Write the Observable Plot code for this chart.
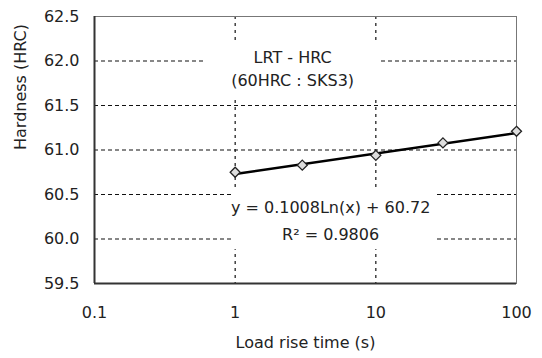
<!DOCTYPE html>
<html>
<head>
<meta charset="utf-8">
<script src="https://cdn.jsdelivr.net/npm/d3@7"></script>
<script src="https://cdn.jsdelivr.net/npm/@observablehq/plot@0.6"></script>
<style>
  html, body { margin: 0; padding: 0; background: #fff; }
  svg { display: block; }
</style>
</head>
<body>
<div id="chart"></div>
<script>
// Data
const loadRiseTime = [1, 3, 10, 30, 100];
const hardness = [60.75, 60.83, 60.94, 61.08, 61.21];

// Logarithmic trend line end points (y = 0.1008 Ln(x) + 60.72)
const trendX = [1, 100];
const trendY = [60.73, 61.19];

// Axis ticks
const xTicks = [0.1, 1, 10, 100];
const xTickLabels = ["0.1", "1", "10", "100"];
const yTicks = [59.5, 60.0, 60.5, 61.0, 61.5, 62.0, 62.5];
const yGrid = [60.0, 60.5, 61.0, 61.5, 62.0];
const xGrid = [1, 10];

// Texts
const titleLines = ["LRT - HRC", "(60HRC : SKS3)"];
const equationLines = ["y = 0.1008Ln(x) + 60.72", "R\u00B2 = 0.9806"];
const xLabel = "Load rise time (s)";
const yLabel = "Hardness (HRC)";

// Annotation anchors (data units) and their white backgrounds
const titleAnchor = {x: 2.56, y: [62.03, 61.78]};
const equationAnchor = {x: 4.77, y: [60.35, 60.05]};
const labelBoxes = [
  {x1: 0.615, x2: 10.45, y1: 61.6, y2: 62.2},
  {x1: 0.973, x2: 26.5, y1: 59.88, y2: 60.55}
];

const points = loadRiseTime.map((x, i) => ({x, y: hardness[i]}));
const trend = trendX.map((x, i) => ({x, y: trendY[i]}));
const font = "DejaVu Sans, sans-serif";
const ink = "#222";

const chart = Plot.plot({
  width: 542,
  height: 358,
  marginLeft: 94,
  marginRight: 26,
  marginTop: 16,
  marginBottom: 75,
  style: {fontFamily: font, fontSize: "16px", color: ink, background: "#fff"},
  x: {type: "log", domain: [0.1, 100]},
  y: {domain: [59.5, 62.5]},
  marks: [
    Plot.ruleY(yGrid, {stroke: "#111", strokeWidth: 1.2, strokeDasharray: "4,3"}),
    Plot.ruleX(xGrid, {stroke: "#111", strokeWidth: 1.2, strokeDasharray: "3,4"}),
    Plot.rect(labelBoxes, {x1: "x1", x2: "x2", y1: "y1", y2: "y2", fill: "#fff"}),
    Plot.frame({stroke: "#777", strokeWidth: 1}),
    Plot.ruleX([0.1], {stroke: "#333", strokeWidth: 2}),
    Plot.ruleY([59.5], {stroke: "#333", strokeWidth: 2}),
    Plot.axisX({ticks: xTicks, tickFormat: (d) => xTickLabels[xTicks.indexOf(d)] ?? "", tickSize: 0, tickPadding: 23, label: null, fontSize: 16, fill: ink}),
    Plot.axisY({ticks: yTicks, tickFormat: ".1f", tickSize: 0, tickPadding: 15, label: null, fontSize: 16, fill: ink}),
    Plot.line(trend, {x: "x", y: "y", stroke: "#000", strokeWidth: 2.4}),
    Plot.dot(points, {x: "x", y: "y", symbol: "diamond2", r: 4.5, fill: "#ddd", stroke: "#222", strokeWidth: 1.3}),
    Plot.text(titleLines, {x: () => titleAnchor.x, y: (d, i) => titleAnchor.y[i], text: (d) => d, fontSize: 16, fill: ink, textAnchor: "middle"}),
    Plot.text(equationLines, {x: () => equationAnchor.x, y: (d, i) => equationAnchor.y[i], text: (d) => d, fontSize: 16, fill: ink, textAnchor: "middle"}),
    Plot.text([xLabel], {frameAnchor: "bottom", dy: 64, text: (d) => d, fontSize: 16, fill: ink}),
    Plot.text([yLabel], {frameAnchor: "left", dx: -74, rotate: -90, text: (d) => d, fontSize: 16, fill: ink})
  ]
});
document.getElementById("chart").appendChild(chart);
</script>
</body>
</html>
